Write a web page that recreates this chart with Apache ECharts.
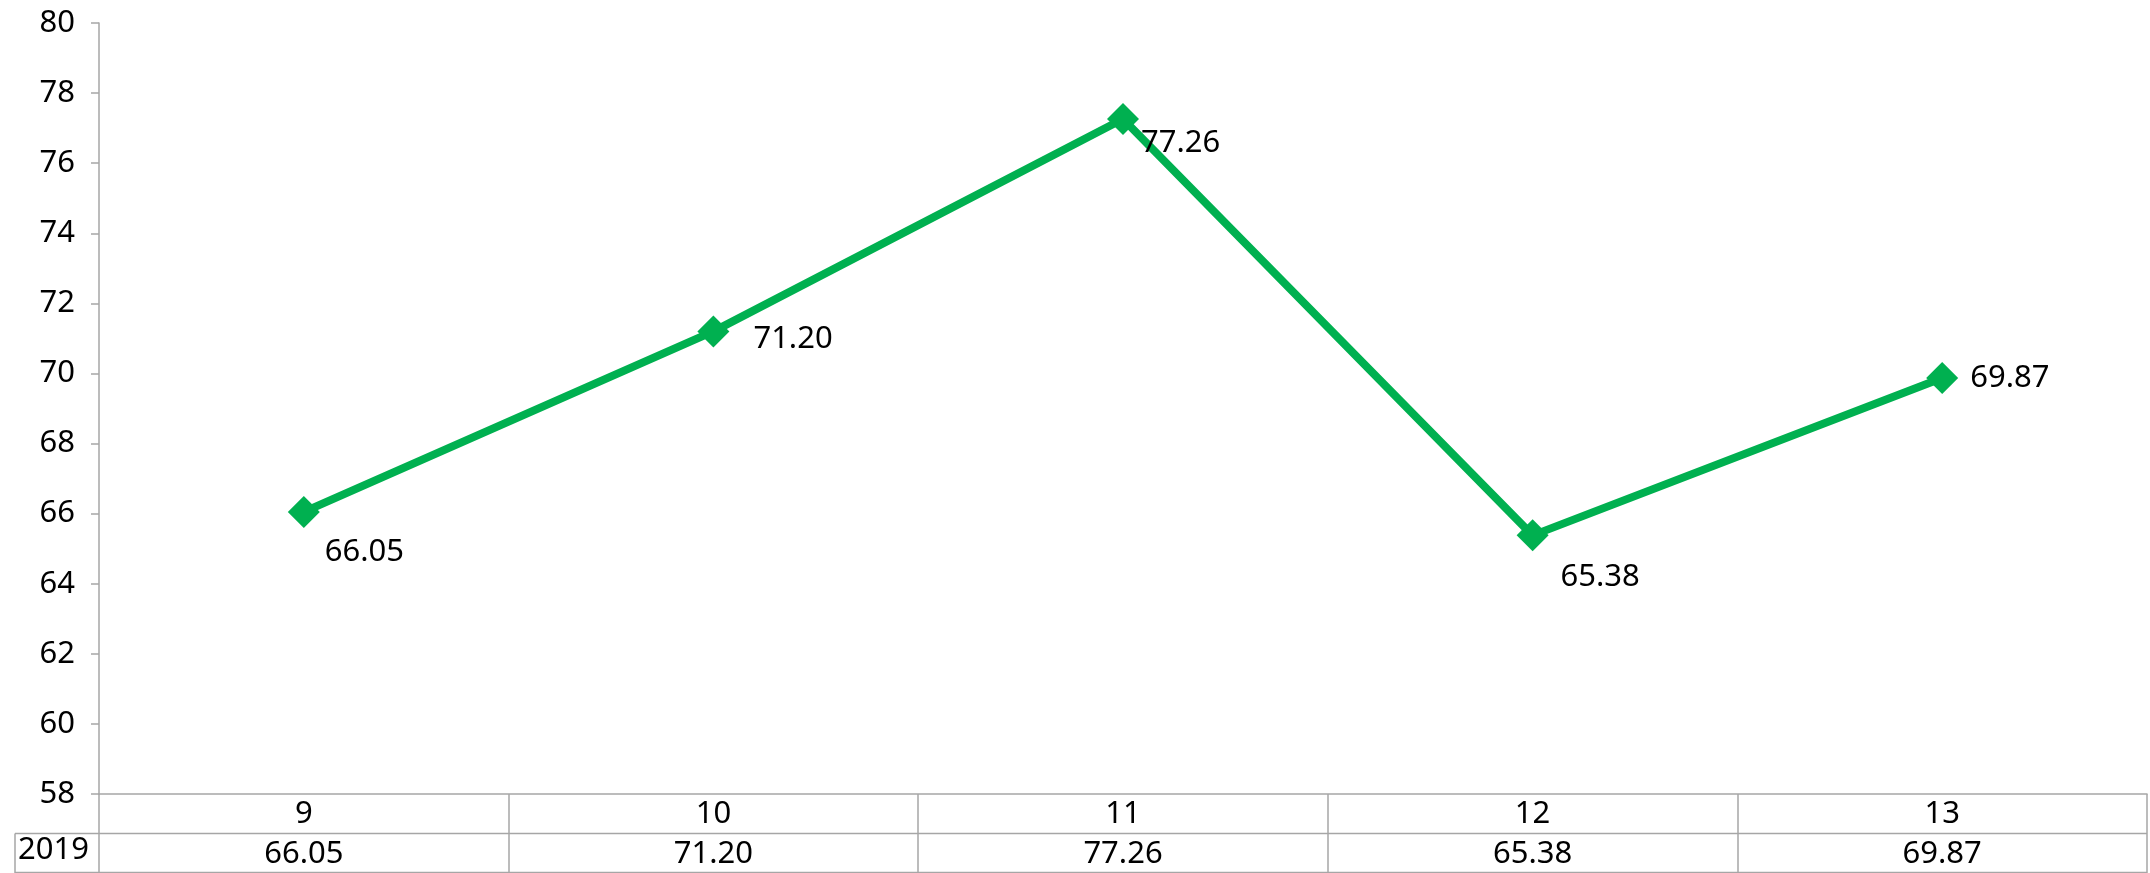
<!DOCTYPE html>
<html>
<head>
<meta charset="utf-8">
<script src="https://cdn.jsdelivr.net/npm/echarts@6/dist/echarts.min.js"></script>
<style>
html,body{margin:0;padding:0;background:#fff;}
#chart{width:2150px;height:873px;}
</style>
</head>
<body>
<div id="chart"></div>
<script>
const categories = ['9', '10', '11', '12', '13'];
const seriesName = '2019';
const values2019 = [66.05, 71.20, 77.26, 65.38, 69.87];
const yTicks = { min: 58, max: 80, interval: 2 };

// label placement (style only)
const labelOffsets = [[5, 40], [24, 8], [2, 24], [12, 42], [12, 0]];

const FONT = 'Noto Sans';
const FS = 31;
const GREEN = '#00B050';
const GRID = '#A6A6A6';

const chart = echarts.init(document.getElementById('chart'), null, { renderer: 'canvas' });

const option = {
  animation: false,
  backgroundColor: '#fff',
  grid: { left: 99, right: 3, top: 23, bottom: 79, containLabel: false },
  xAxis: {
    type: 'category',
    data: categories,
    boundaryGap: true,
    axisLine: { show: true, lineStyle: { color: GRID, width: 1.5 } },
    axisTick: { show: true, alignWithLabel: false, length: 79, lineStyle: { color: GRID, width: 1.5 } },
    axisLabel: {
      margin: 0,
      interval: 0,
      formatter: function (v, i) {
        return '{a|' + v + '}\n{b|' + values2019[i].toFixed(2) + '}';
      },
      rich: {
        a: { fontFamily: FONT, fontSize: FS, color: '#000', lineHeight: 40, align: 'center' },
        b: { fontFamily: FONT, fontSize: FS, color: '#000', lineHeight: 40, align: 'center' }
      }
    },
    splitLine: { show: false }
  },
  yAxis: {
    type: 'value',
    min: yTicks.min,
    max: yTicks.max,
    interval: yTicks.interval,
    axisLine: { show: true, lineStyle: { color: GRID, width: 1.5 } },
    axisTick: { show: true, length: 8, lineStyle: { color: GRID, width: 1.5 } },
    axisLabel: { fontFamily: FONT, fontSize: FS, color: '#000', margin: 24 },
    splitLine: { show: false }
  },
  series: [{
    name: seriesName,
    type: 'line',
    data: values2019.map((v, i) => ({
      value: v,
      label: { offset: labelOffsets[i] }
    })),
    symbol: 'diamond',
    symbolSize: 32,
    lineStyle: { color: GREEN, width: 8 },
    itemStyle: { color: GREEN },
    label: {
      show: true,
      position: 'right',
      distance: 0,
      fontFamily: FONT,
      fontSize: FS,
      color: '#000',
      formatter: p => p.value.toFixed(2)
    },
    z: 5
  }],
  graphic: [
    { type: 'line', shape: { x1: 15, y1: 833.5, x2: 2147, y2: 833.5 }, style: { stroke: GRID, lineWidth: 1.5 } },
    { type: 'line', shape: { x1: 15, y1: 833.5, x2: 15, y2: 873 }, style: { stroke: GRID, lineWidth: 1.5 } },
    { type: 'line', shape: { x1: 15, y1: 872.5, x2: 2147, y2: 872.5 }, style: { stroke: GRID, lineWidth: 1.5 } },
    { type: 'text', left: 18, top: 835, style: { text: seriesName, font: FS + 'px "Noto Sans"', fill: '#000' } }
  ]
};
chart.setOption(option);
</script>
</body>
</html>
